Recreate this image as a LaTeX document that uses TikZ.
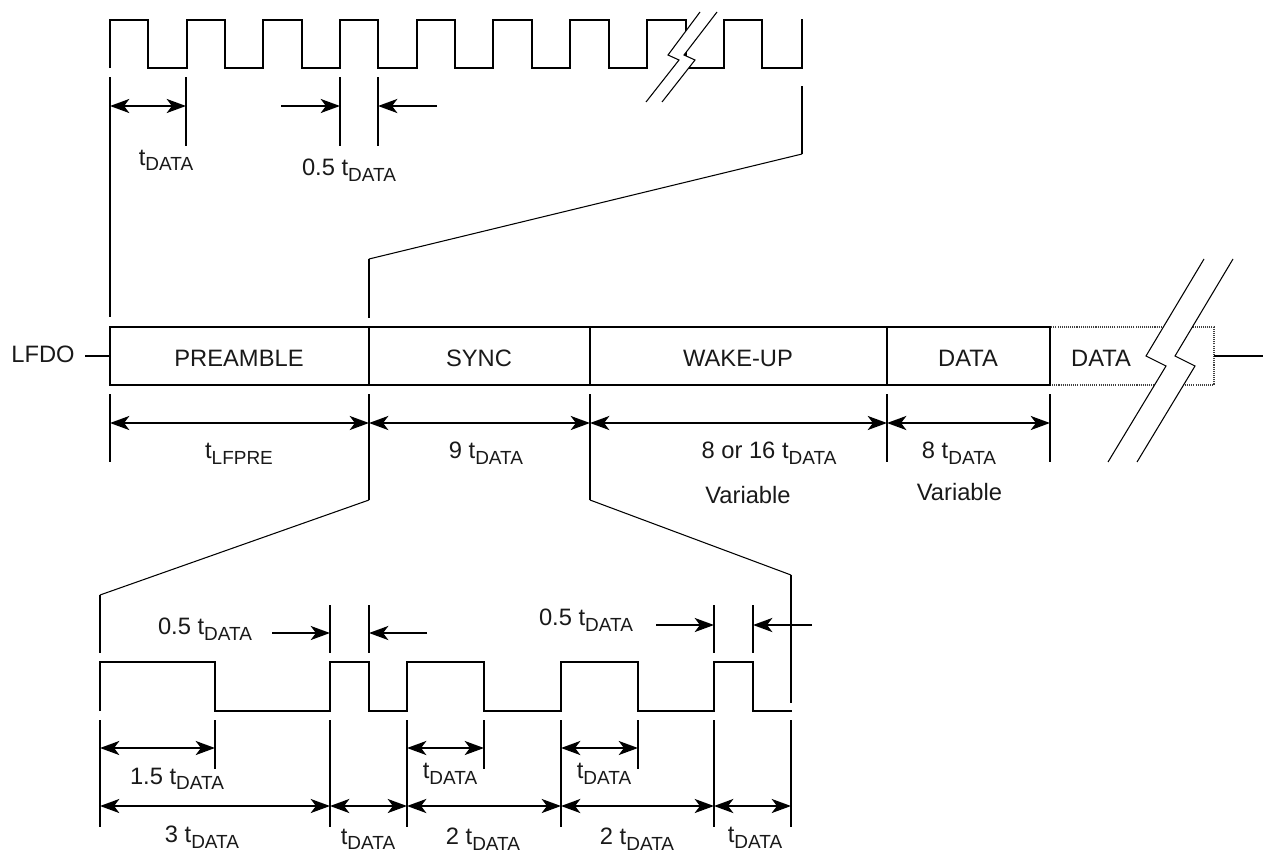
\documentclass[tikz,border=0pt]{standalone}
\usepackage{fontspec}
\setmainfont{Liberation Sans}
\usepackage{tikz}
\usetikzlibrary{arrows.meta}
\newcommand{\tsub}[1]{t\raisebox{-3.2pt}{\fontsize{10.8}{12}\selectfont #1}}
\tikzset{
	lbl/.style={inner sep=0pt,outer sep=0pt,font=\fontsize{13.5}{16}\selectfont,text=black!90},
	block/.style={draw,line width=1.15pt,inner sep=0pt,outer sep=0pt,minimum height=1.16cm,font=\fontsize{13.5}{16}\selectfont},
	wave/.style={line width=1.15pt,line join=miter},
	tick/.style={line width=1.15pt},
	link/.style={line width=0.6pt},
	dim/.style={line width=1.15pt,{Stealth[length=11pt,width=8pt,inset=3pt]}-{Stealth[length=11pt,width=8pt,inset=3pt]}},
	dimin/.style={line width=1.15pt,-{Stealth[length=11pt,width=8pt,inset=3pt]}},
	brk/.style={line width=0.6pt}
}
\begin{document}
\begin{tikzpicture}[x=0.02cm,y=-0.02cm]
	\useasboundingbox (0,0) rectangle (1263,852);
	% top waveform
	\draw[wave] (110,68) |- (148,20) |- (187,68) |- (225,20) |- (263,68) |- (302,20) |- (340,68) |- (378,20) |- (417,68) |- (455,20) |- (493,68) |- (532,20) |- (570,68) |- (609,20) |- (647,68) |- (686,20) |- (724,68) |- (762,20) |- (802,68) -- (802,19);
	\fill[white] (700,12) -- (668,55) -- (679,60) -- (646,102) -- (662,102) -- (695,60) -- (684,55) -- (717,12) -- cycle;
	\draw[brk] (700,12) -- (668,55) -- (679,60) -- (646,102);
	\draw[brk] (717,12) -- (684,55) -- (695,60) -- (662,102);
	% frame
	\node[block,draw=black!75,dash pattern=on 0.6pt off 0.6pt,minimum width=3.28cm] (DATB) at (1132,356) {};
	\node[block,minimum width=5.18cm] (PRE) at (239.5,356) {};
	\node[block,minimum width=4.42cm] (SYN) at (479.5,356) {};
	\node[block,minimum width=5.94cm] (WAK) at (738.5,356) {};
	\node[block,minimum width=3.26cm] (DAT) at (968.5,356) {};
	\node[lbl] (LPRE) at (239,358) {PREAMBLE};
	\node[lbl] (LSYN) at (479,358) {SYNC};
	\node[lbl] (LWAK) at (738,358) {WAKE-UP};
	\node[lbl] (LDAT) at (968,358) {DATA};
	\node[lbl] (LDATB) at (1101,358) {DATA};
	\node[lbl] (LFDO) at (43,354.5) {LFDO};
	\coordinate (INL) at (85,356);
	\coordinate (OUTR) at (1263,356);
	\draw[tick] (INL) -- (PRE.west);
	\draw[tick] (DATB.east) -- (OUTR);
	\fill[white] (1204,259) -- (1146,356) -- (1166,366) -- (1108,462) -- (1137,462) -- (1195,366) -- (1175,356) -- (1233,259) -- cycle;
	\draw[brk] (1204,259) -- (1146,356) -- (1166,366) -- (1108,462);
	\draw[brk] (1233,259) -- (1175,356) -- (1195,366) -- (1137,462);
	% bottom waveform
	\draw[wave] (100,711) -- (100,662) -| (215,711) -| (330,662) -| (369,711) -| (407,662) -| (484,711) -| (561,662) -| (638,711) -| (714,662) -| (753,711) -- (792,711);
	% ticks
	\foreach \x/\a/\b in {110/77/317,186/77/146,340/77/146,378/77/146,110/394/462,369/394/500,590/394/500,887/394/462,1050/394/462,330/605/653,369/605/653,714/605/653,753/605/653,100/720/827,215/720/769,330/720/827,407/720/827,484/720/769,561/720/827,638/720/769,714/720/827,791/720/827}
		\draw[tick] (\x,\a) -- (\x,\b);
	% zoom links
	\draw[link] (802,154) -- (369,259);
	\draw[tick] (802,86) -- (802,154);
	\draw[tick] (369,259) -- (369,318);
	\draw[link] (369,500) -- (100,595);
	\draw[tick] (100,595) -- (100,653);
	\draw[link] (590,500) -- (791,575);
	\draw[tick] (791,575) -- (791,703);
	% arrow ends
	\foreach \n/\x/\y in {a/110/106,b/186/106,c/281/106,d/340/106,e/437/106,f/378/106,
		g/110/423,h/369/423,i/590/423,j/887/423,k/1050/423,
		m/272/633,n/330/633,o/427/633,p/369/633,q/656/625,r/714/625,s/812/625,u/753/625,
		v/100/748,w/215/748,x/407/748,y/484/748,z/561/748,aa/638/748,
		ab/100/806,ac/330/806,ad/407/806,ae/561/806,af/714/806,ag/791/806}
		\coordinate (\n) at (\x,\y);
	\draw[dim] (a) -- (b);
	\draw[dimin] (c) -- (d);
	\draw[dimin] (e) -- (f);
	\draw[dim] (g) -- (h);
	\draw[dim] (h) -- (i);
	\draw[dim] (i) -- (j);
	\draw[dim] (j) -- (k);
	\draw[dimin] (m) -- (n);
	\draw[dimin] (o) -- (p);
	\draw[dimin] (q) -- (r);
	\draw[dimin] (s) -- (u);
	\draw[dim] (v) -- (w);
	\draw[dim] (x) -- (y);
	\draw[dim] (z) -- (aa);
	\draw[dim] (ab) -- (ac);
	\draw[dim] (ac) -- (ad);
	\draw[dim] (ad) -- (ae);
	\draw[dim] (ae) -- (af);
	\draw[dim] (af) -- (ag);
	% labels
	\node[lbl] (T1) at (166,160.5) {\tsub{DATA}};
	\node[lbl] (T2) at (349,170.5) {0.5 \tsub{DATA}};
	\node[lbl] (T3) at (239,454) {\tsub{LFPRE}};
	\node[lbl] (T4) at (486,453.5) {9 \tsub{DATA}};
	\node[lbl] (T5) at (769,453) {8 or 16 \tsub{DATA}};
	\node[lbl] (T6) at (959,453) {8 \tsub{DATA}};
	\node[lbl] (V1) at (748,495) {Variable};
	\node[lbl] (V2) at (959.5,492) {Variable};
	\node[lbl] (T7) at (205,629.5) {0.5 \tsub{DATA}};
	\node[lbl] (T8) at (586,620) {0.5 \tsub{DATA}};
	\node[lbl] (T9) at (177,779) {1.5 \tsub{DATA}};
	\node[lbl] (T10) at (450,774) {\tsub{DATA}};
	\node[lbl] (T11) at (604,774) {\tsub{DATA}};
	\node[lbl] (T12) at (202,837) {3 \tsub{DATA}};
	\node[lbl] (T13) at (368,839.5) {\tsub{DATA}};
	\node[lbl] (T14) at (483,839.5) {2 \tsub{DATA}};
	\node[lbl] (T15) at (637,839.5) {2 \tsub{DATA}};
	\node[lbl] (T16) at (755,838) {\tsub{DATA}};
\end{tikzpicture}
\end{document}
